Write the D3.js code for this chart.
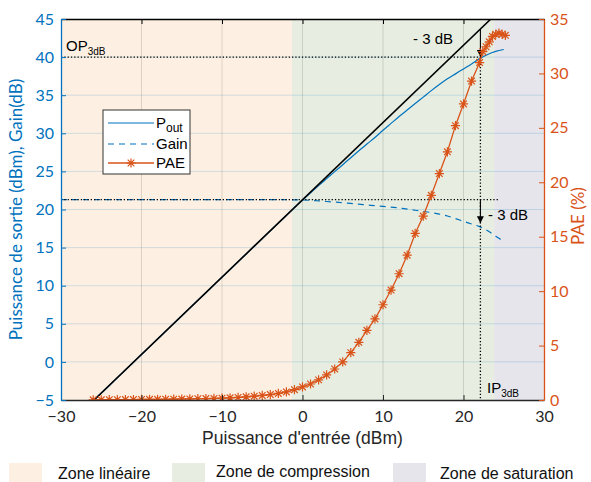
<!DOCTYPE html>
<html><head><meta charset="utf-8">
<script src="https://cdn.jsdelivr.net/npm/d3@7"></script>
<style>body{margin:0;background:#fff} svg{display:block}</style>
</head><body>
<script>
// ---------- data ----------
const xTicks = [-30, -20, -10, 0, 10, 20, 30];
const yLeftTicks = [-5, 0, 5, 10, 15, 20, 25, 30, 35, 40, 45];
const yRightTicks = [0, 5, 10, 15, 20, 25, 30, 35];

const zoneBounds = [-30, -1.3, 23.8, 30];
const zoneNames = ["Zone linéaire", "Zone de compression", "Zone de saturation"];
const zoneColors = ["#FDF0E2", "#E7EEE1", "#E5E5EB"];

const pinDbm = [-30,-29,-28,-27,-26,-25,-24,-23,-22,-21,-20,-19,-18,-17,-16,-15,-14,-13,-12,-11,
  -10,-9,-8,-7,-6,-5,-4,-3,-2,-1,0,1,2,3,4,5,6,7,8,9,10,11,12,13,14,15,16,17,18,19,20,21,22,23,24,25];
const poutDbm = [-9.17,-8.16,-7.14,-6.13,-5.11,-4.1,-3.09,-2.07,-1.06,-0.04,0.97,1.98,3.0,4.01,5.03,6.04,
  7.05,8.07,9.08,10.1,11.11,12.12,13.14,14.15,15.17,16.18,17.19,18.21,19.22,20.24,21.25,22.2,23.13,24.05,
  24.97,25.88,26.8,27.7,28.6,29.45,30.4,31.3,32.2,33.05,33.9,34.75,35.6,36.4,37.15,37.8,38.45,39.1,39.8,
  40.35,40.75,41.0];
const gainDb = [21.3,21.3,21.3,21.3,21.3,21.3,21.3,21.3,21.3,21.3,21.3,21.3,21.3,21.3,21.3,21.3,21.3,21.3,
  21.3,21.3,21.3,21.3,21.3,21.3,21.3,21.3,21.3,21.3,21.28,21.27,21.25,21.2,21.13,21.05,20.97,20.88,20.8,
  20.7,20.6,20.5,20.4,20.3,20.2,20.05,19.9,19.75,19.6,19.4,19.15,18.8,18.45,18.1,17.75,17.2,16.5,15.8];

const paeX = [-26,-25,-24,-23,-22,-21,-20,-19,-18,-17,-16,-15,-14,-13,-12,-11,-10,-9,-8,-7,-6,-5,-4,-3,
  -2,-1,0,1,2,3,4,5,6,7,8,9,10,11,12,13,14,15,16,17,18,19,20,21,22,22.4,22.8,23.2,23.6,24,24.4,24.8,25.2];
const paePct = [0.02,0.02,0.03,0.03,0.04,0.04,0.05,0.06,0.06,0.07,0.08,0.09,0.1,0.12,0.13,0.15,0.17,0.2,
  0.24,0.29,0.35,0.42,0.5,0.6,0.74,0.95,1.2,1.47,1.85,2.3,2.85,3.5,4.35,5.3,6.4,7.45,8.75,10.1,11.6,13.3,
  15.3,16.9,18.8,20.8,22.8,25.2,27.2,29.3,31.0,32.0,32.45,32.9,33.4,33.6,33.7,33.6,33.5];

const idealX = [-25.9, 23.4];
const idealY = [-5, 45];

const smallSignalGain = 21.3;
const op3dB = 40;
const ip3dB = 22.1;
const gainAt3dB = 18.2;
const idealAtIp = 43.7;

// ---------- layout ----------
const W = 591, H = 482;
const m = {left: 61, right: 544, top: 19, bottom: 400};
const blue = "#0072BD", orange = "#D95319", dark = "#262626";

const svg = d3.select("body").append("svg").attr("width", W).attr("height", H)
  .style("font-family", "Lato, 'Open Sans', sans-serif");

const x = d3.scaleLinear().domain([-30, 30]).range([m.left, m.right]);
const yL = d3.scaleLinear().domain([-5, 45]).range([m.bottom, m.top]);
const yR = d3.scaleLinear().domain([0, 35]).range([m.bottom, m.top]);

svg.append("defs").append("clipPath").attr("id", "clip")
  .append("rect").attr("x", m.left).attr("y", m.top)
  .attr("width", m.right - m.left).attr("height", m.bottom - m.top);

// zones
svg.append("g").selectAll("rect").data(zoneNames).join("rect")
  .attr("x", (d, i) => x(zoneBounds[i])).attr("y", m.top)
  .attr("width", (d, i) => x(zoneBounds[i + 1]) - x(zoneBounds[i]))
  .attr("height", m.bottom - m.top)
  .attr("fill", (d, i) => zoneColors[i]);

// grid
svg.append("g").selectAll("line").data(xTicks.slice(1, -1)).join("line")
  .attr("x1", d => x(d)).attr("x2", d => x(d)).attr("y1", m.top).attr("y2", m.bottom)
  .attr("stroke", "#000").attr("stroke-opacity", 0.13).attr("stroke-width", 1);
svg.append("g").selectAll("line").data(yLeftTicks.slice(1, -1)).join("line")
  .attr("x1", m.left).attr("x2", m.right).attr("y1", d => yL(d)).attr("y2", d => yL(d))
  .attr("stroke", blue).attr("stroke-opacity", 0.17).attr("stroke-width", 1);

const plot = svg.append("g").attr("clip-path", "url(#clip)");

// Pout
const lineL = d3.line().x((d, i) => x(pinDbm[i])).y(d => yL(d)).curve(d3.curveMonotoneX);
plot.append("path").datum(poutDbm).attr("d", lineL)
  .attr("fill", "none").attr("stroke", blue).attr("stroke-width", 1.2);
// Gain
plot.append("path").datum(gainDb).attr("d", lineL)
  .attr("fill", "none").attr("stroke", blue).attr("stroke-width", 1.2)
  .attr("stroke-dasharray", "6,5");

// dotted annotation lines
const dot = {stroke: "#000", "stroke-width": 1.3, "stroke-dasharray": "1.3,2"};
function dl(x1, y1, x2, y2) {
  const l = plot.append("line").attr("x1", x1).attr("y1", y1).attr("x2", x2).attr("y2", y2);
  Object.entries(dot).forEach(([k, v]) => l.attr(k, v));
  return l;
}
dl(x(-30), yL(op3dB), x(ip3dB), yL(op3dB));
dl(x(-30), yL(smallSignalGain), x(24.3), yL(smallSignalGain));
dl(x(ip3dB), yL(op3dB), x(ip3dB), m.bottom);

// ideal line
plot.append("path").datum(idealX).attr("d", d3.line().x(d => x(d)).y((d, i) => yL(idealY[i])))
  .attr("fill", "none").attr("stroke", "#000").attr("stroke-width", 1.6);

// arrows
svg.append("defs").append("marker").attr("id", "ah").attr("viewBox", "0 0 10 10")
  .attr("refX", 10).attr("refY", 5).attr("markerWidth", 7).attr("markerHeight", 9)
  .attr("markerUnits", "userSpaceOnUse").attr("orient", "auto")
  .append("path").attr("d", "M0,0L10,5L0,10z").attr("fill", "#000");
plot.append("line").attr("x1", x(ip3dB)).attr("x2", x(ip3dB))
  .attr("y1", yL(idealAtIp)).attr("y2", yL(op3dB)).attr("stroke", "#000").attr("stroke-width", 1.1)
  .attr("marker-end", "url(#ah)");
plot.append("line").attr("x1", x(ip3dB)).attr("x2", x(ip3dB))
  .attr("y1", yL(smallSignalGain)).attr("y2", yL(gainAt3dB)).attr("stroke", "#000").attr("stroke-width", 1.1)
  .attr("marker-end", "url(#ah)");

// PAE
plot.append("path").datum(paePct)
  .attr("d", d3.line().x((d, i) => x(paeX[i])).y(d => yR(d)))
  .attr("fill", "none").attr("stroke", orange).attr("stroke-width", 1.3);
const r = 4.6, a = r * 0.72;
const star = `M${-r},0L${r},0M0,${-r}L0,${r}M${-a},${-a}L${a},${a}M${-a},${a}L${a},${-a}`;
plot.append("g").selectAll("path").data(paePct).join("path")
  .attr("transform", (d, i) => `translate(${x(paeX[i])},${yR(d)})`)
  .attr("d", star).attr("fill", "none").attr("stroke", orange).attr("stroke-width", 1.2);

// axes
const tickFont = "Lato, sans-serif";
const gx = svg.append("g").attr("transform", `translate(0,${m.bottom})`)
  .call(d3.axisBottom(x).tickValues(xTicks).tickSize(-5).tickPadding(11).tickSizeOuter(0));
gx.select(".domain").attr("stroke", dark).attr("stroke-width", 1.3);
gx.selectAll("line").attr("stroke", dark);
gx.selectAll("text").attr("fill", dark).style("font-size", "16px").style("font-family", tickFont);

const gt = svg.append("g").attr("transform", `translate(0,${m.top})`)
  .call(d3.axisTop(x).tickValues(xTicks).tickSize(-5).tickSizeOuter(0).tickFormat(""));
gt.select(".domain").attr("stroke", "#000").attr("stroke-width", 1.3);
gt.selectAll("line").attr("stroke", "#000");

const gl = svg.append("g").attr("transform", `translate(${m.left},0)`)
  .call(d3.axisLeft(yL).tickValues(yLeftTicks).tickSize(-5).tickPadding(7).tickSizeOuter(0));
gl.select(".domain").attr("stroke", blue).attr("stroke-width", 1.3);
gl.selectAll("line").attr("stroke", blue);
gl.selectAll("text").attr("fill", blue).style("font-size", "16px").style("font-family", tickFont);

const gr = svg.append("g").attr("transform", `translate(${m.right},0)`)
  .call(d3.axisRight(yR).tickValues(yRightTicks).tickSize(-5).tickPadding(6).tickSizeOuter(0));
gr.select(".domain").attr("stroke", orange).attr("stroke-width", 1.3);
gr.selectAll("line").attr("stroke", orange);
gr.selectAll("text").attr("fill", orange).style("font-size", "16px").style("font-family", tickFont);

// axis labels
svg.append("text").attr("x", x(0)).attr("y", 444).attr("text-anchor", "middle")
  .attr("fill", dark).style("font-family", "'Liberation Sans', Arial, sans-serif").style("font-size", "17.5px")
  .text("Puissance d'entrée (dBm)");
svg.append("text").attr("transform", `translate(22,${(m.top + m.bottom) / 2}) rotate(-90)`)
  .attr("text-anchor", "middle").attr("fill", blue).style("font-size", "17px")
  .text("Puissance de sortie (dBm), Gain(dB)");
svg.append("text").attr("transform", `translate(584,216) rotate(-90)`)
  .attr("text-anchor", "middle").attr("fill", orange).style("font-size", "17px")
  .text("PAE (%)");

// annotations text
const af = "'Liberation Sans', Arial, sans-serif";
function sub(xp, yp, main, s) {
  const t = svg.append("text").attr("x", xp).attr("y", yp).attr("fill", "#000")
    .style("font-family", af).style("font-size", "15px");
  t.append("tspan").text(main);
  t.append("tspan").attr("dy", 4).style("font-size", "10px").text(s);
}
sub(66, 51, "OP", "3dB");
sub(487, 393, "IP", "3dB");
svg.append("text").attr("x", 413).attr("y", 44).style("font-family", af).style("font-size", "15px").text("- 3 dB");
svg.append("text").attr("x", 488).attr("y", 220).style("font-family", af).style("font-size", "15px").text("- 3 dB");

// legend
const lg = svg.append("g").attr("transform", "translate(103,110)").style("font-family", af);
lg.append("rect").attr("width", 87).attr("height", 64).attr("fill", "#fff")
  .attr("stroke", "#333").attr("stroke-width", 1);
lg.append("line").attr("x1", 5).attr("x2", 51).attr("y1", 13).attr("y2", 13).attr("stroke", blue).attr("stroke-width", 1.2);
lg.append("line").attr("x1", 5).attr("x2", 51).attr("y1", 34).attr("y2", 34).attr("stroke", blue).attr("stroke-width", 1.2).attr("stroke-dasharray", "6,5");
lg.append("line").attr("x1", 5).attr("x2", 51).attr("y1", 53).attr("y2", 53).attr("stroke", orange).attr("stroke-width", 1.3);
lg.append("path").attr("transform", "translate(28,53)").attr("d", star).attr("fill", "none").attr("stroke", orange).attr("stroke-width", 1.2);
const pt = lg.append("text").attr("x", 53).attr("y", 18).style("font-size", "15px");
pt.append("tspan").text("P");
pt.append("tspan").attr("dy", 4).style("font-size", "12px").text("out");
lg.append("text").attr("x", 53).attr("y", 39).style("font-size", "15px").text("Gain");
lg.append("text").attr("x", 53).attr("y", 58).style("font-size", "15px").text("PAE");

// bottom legend
const bl = svg.append("g").style("font-family", af);
const bx = [9, 172, 393];
const tx = [58, 216, 440];
const ty = [479, 477, 479];
zoneNames.forEach((n, i) => {
  bl.append("rect").attr("x", bx[i]).attr("y", 463).attr("width", 33).attr("height", 19).attr("fill", zoneColors[i]);
  bl.append("text").attr("x", tx[i]).attr("y", ty[i]).style("font-size", "16px").attr("fill", "#111").text(n);
});
</script>
</body></html>
